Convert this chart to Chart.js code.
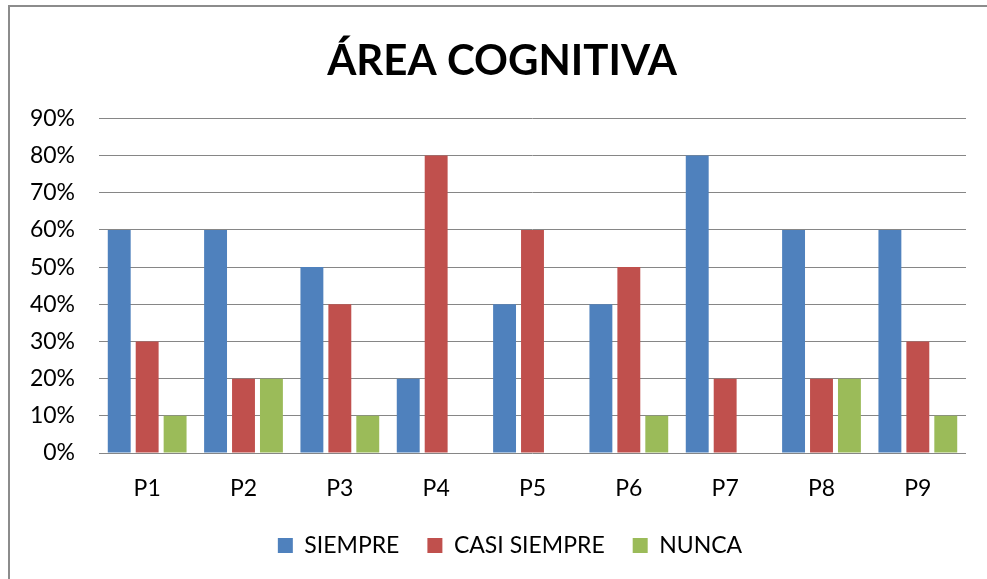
<!DOCTYPE html>
<html>
<head>
<meta charset="utf-8">
<script src="https://cdn.jsdelivr.net/npm/chart.js@4.4.1/dist/chart.umd.min.js"></script>
<style>
  html, body { margin: 0; padding: 0; background: #fff; }
  #wrap { width: 987px; height: 579px; position: relative; }
</style>
</head>
<body>
<div id="wrap"><canvas id="c" width="987" height="579"></canvas></div>
<script>
const categories = ['P1', 'P2', 'P3', 'P4', 'P5', 'P6', 'P7', 'P8', 'P9'];
const siempre = [60, 60, 50, 20, 40, 40, 80, 60, 60];
const casiSiempre = [30, 20, 40, 80, 60, 50, 20, 20, 30];
const nunca = [10, 20, 10, 0, 0, 10, 0, 20, 10];
const yTicks = [0, 10, 20, 30, 40, 50, 60, 70, 80, 90];
const titleText = 'ÁREA COGNITIVA';

const FONT = 'Lato, "Open Sans", sans-serif';

const framePlugin = {
  id: 'frame',
  beforeDraw(chart) {
    const ctx = chart.ctx;
    ctx.save();
    ctx.fillStyle = '#ffffff';
    ctx.fillRect(0, 0, chart.width, chart.height);
    ctx.strokeStyle = '#8c8c8c';
    ctx.lineWidth = 2;
    ctx.beginPath();
    ctx.moveTo(9, chart.height);
    ctx.lineTo(9, 6);
    ctx.lineTo(chart.width, 6);
    ctx.stroke();
    ctx.restore();
  }
};

const blockShift = {
  id: 'blockShift',
  afterLayout(chart) {
    if (chart.legend) {
      chart.legend.left += 22;
      chart.legend.right += 22;
    }
    if (chart.titleBlock) {
      chart.titleBlock.left += 14;
      chart.titleBlock.right += 14;
    }
  }
};

new Chart(document.getElementById('c'), {
  type: 'bar',
  data: {
    labels: categories,
    datasets: [
      { label: 'SIEMPRE', data: siempre, backgroundColor: '#4F81BD' },
      { label: 'CASI SIEMPRE', data: casiSiempre, backgroundColor: '#C0504D' },
      { label: 'NUNCA', data: nunca, backgroundColor: '#9BBB59' }
    ]
  },
  options: {
    responsive: false,
    animation: false,
    devicePixelRatio: 1,
    layout: { padding: { left: 10, right: 21, top: 0, bottom: 12 } },
    datasets: { bar: { categoryPercentage: 0.87, barPercentage: 0.82 } },
    plugins: {
      title: {
        display: true,
        text: titleText,
        color: '#000',
        font: { family: FONT, size: 42, weight: 'bold' },
        padding: { top: 36, bottom: 32 }
      },
      legend: {
        position: 'bottom',
        labels: {
          color: '#000',
          font: { family: FONT, size: 23 },
          boxWidth: 15,
          boxHeight: 15,
          padding: 28
        }
      },
      tooltip: { enabled: false }
    },
    scales: {
      x: {
        grid: { display: false, drawTicks: false },
        border: { display: false },
        ticks: { color: '#000', font: { family: FONT, size: 23 }, padding: 22 },
        afterFit(scale) { scale.height = 53; }
      },
      y: {
        min: 0,
        max: 90,
        afterBuildTicks(scale) { scale.ticks = yTicks.map(v => ({ value: v })); },
        grid: { color: '#868686', lineWidth: 1, drawTicks: false },
        border: { display: false },
        ticks: {
          color: '#000',
          font: { family: FONT, size: 23 },
          padding: 24,
          callback: v => v + '%'
        },
        afterFit(scale) { scale.width = 89; }
      }
    }
  },
  plugins: [framePlugin, blockShift]
});
</script>
</body>
</html>
